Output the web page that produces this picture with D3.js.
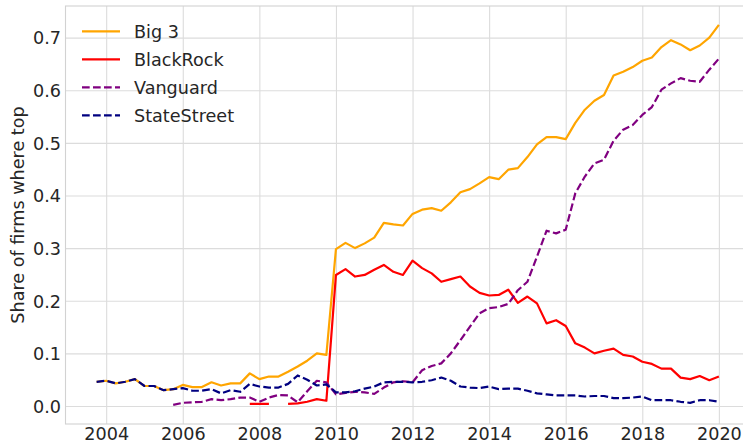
<!DOCTYPE html>
<html>
<head>
<meta charset="utf-8">
<script src="https://cdn.jsdelivr.net/npm/d3@7"></script>
<style>
  body { margin: 0; background: #fff; }
  svg { display: block; font-family: "DejaVu Sans", sans-serif; }
</style>
</head>
<body>
<svg width="743" height="447"></svg>
<script>
// quarterly observations, 2003 Q4 .. 2020 Q1 (decimal years)
var quarters = [
  2003.75,
  2004.00, 2004.25, 2004.50, 2004.75, 2005.00, 2005.25, 2005.50, 2005.75,
  2006.00, 2006.25, 2006.50, 2006.75, 2007.00, 2007.25, 2007.50, 2007.75,
  2008.00, 2008.25, 2008.50, 2008.75, 2009.00, 2009.25, 2009.50, 2009.75,
  2010.00, 2010.25, 2010.50, 2010.75, 2011.00, 2011.25, 2011.50, 2011.75,
  2012.00, 2012.25, 2012.50, 2012.75, 2013.00, 2013.25, 2013.50, 2013.75,
  2014.00, 2014.25, 2014.50, 2014.75, 2015.00, 2015.25, 2015.50, 2015.75,
  2016.00, 2016.25, 2016.50, 2016.75, 2017.00, 2017.25, 2017.50, 2017.75,
  2018.00, 2018.25, 2018.50, 2018.75, 2019.00, 2019.25, 2019.50, 2019.75,
  2020.00
];

var big3 = [
  0.046,
  0.048, 0.043, 0.046, 0.051, 0.038, 0.038, 0.030, 0.032,
  0.040, 0.036, 0.036, 0.045, 0.039, 0.043, 0.043, 0.062,
  0.051, 0.056, 0.056, 0.065, 0.075, 0.086, 0.100, 0.097,
  0.298, 0.310, 0.300, 0.309, 0.320, 0.348, 0.345, 0.343,
  0.365, 0.373, 0.376, 0.371, 0.387, 0.406, 0.412, 0.423,
  0.435, 0.431, 0.449, 0.452, 0.473, 0.497, 0.511, 0.511,
  0.507, 0.538, 0.563, 0.580, 0.591, 0.628, 0.635, 0.644,
  0.656, 0.662, 0.682, 0.695, 0.687, 0.676, 0.685, 0.700,
  0.724
];

var blackrock = [
  null,
  null, null, null, null, null, null, null, null,
  null, null, null, null, null, null, null, 0.004,
  0.004, 0.004, null, 0.004, 0.005, 0.008, 0.013, 0.010,
  0.249, 0.260, 0.246, 0.249, 0.259, 0.268, 0.255, 0.249,
  0.276, 0.262, 0.252, 0.236, 0.241, 0.246, 0.227, 0.215,
  0.210, 0.211, 0.221, 0.196, 0.208, 0.195, 0.157, 0.163,
  0.152, 0.119, 0.111, 0.100, 0.105, 0.109, 0.097, 0.094,
  0.084, 0.080, 0.071, 0.071, 0.054, 0.051, 0.057, 0.049,
  0.056
];

var vanguard = [
  null,
  null, null, null, null, null, null, null, 0.002,
  0.006, 0.007, 0.008, 0.013, 0.011, 0.013, 0.016, 0.016,
  0.008, 0.016, 0.021, 0.020, 0.007, 0.028, 0.048, 0.045,
  0.022, 0.025, 0.027, 0.026, 0.023, 0.035, 0.045, 0.047,
  0.045, 0.068, 0.076, 0.081, 0.100, 0.125, 0.151, 0.176,
  0.186, 0.188, 0.194, 0.220, 0.236, 0.284, 0.333, 0.328,
  0.335, 0.404, 0.436, 0.461, 0.468, 0.504, 0.525, 0.534,
  0.553, 0.568, 0.601, 0.613, 0.623, 0.618, 0.616, 0.639,
  0.660
];

var statestreet = [
  0.046,
  0.048, 0.043, 0.046, 0.051, 0.038, 0.038, 0.030, 0.032,
  0.034, 0.029, 0.029, 0.032, 0.024, 0.030, 0.027, 0.042,
  0.037, 0.035, 0.035, 0.042, 0.058, 0.050, 0.039, 0.041,
  0.026, 0.026, 0.028, 0.033, 0.037, 0.045, 0.046, 0.046,
  0.045, 0.046, 0.049, 0.054, 0.048, 0.037, 0.035, 0.034,
  0.037, 0.032, 0.033, 0.033, 0.029, 0.024, 0.022, 0.020,
  0.020, 0.020, 0.018, 0.019, 0.019, 0.015, 0.015, 0.016,
  0.018, 0.011, 0.011, 0.011, 0.008, 0.006, 0.011, 0.011,
  0.008
];

var seriesNames = ["Big 3", "BlackRock", "Vanguard", "StateStreet"];
var xTicks = [2004, 2006, 2008, 2010, 2012, 2014, 2016, 2018, 2020];
var yTicks = [0.0, 0.1, 0.2, 0.3, 0.4, 0.5, 0.6, 0.7];
var yLabel = "Share of firms where top";

var series = [
  { name: seriesNames[0], values: big3,        color: "#ffa500", dash: null },
  { name: seriesNames[1], values: blackrock,   color: "#ff0000", dash: null },
  { name: seriesNames[2], values: vanguard,    color: "#800080", dash: "7.7,3.3" },
  { name: seriesNames[3], values: statestreet, color: "#000080", dash: "7.7,3.3" }
];

var svg = d3.select("svg");
// plot box (right edge falls just outside the 743px window, as in the original)
var plotL = 65.5, plotT = 6, plotR = 750, plotB = 424;
var textColor = "#262626";

var x = d3.scaleLinear().domain([2002.9375, 2020.8125]).range([plotL, plotR]);
var y = d3.scaleLinear().domain([-0.0342, 0.760]).range([plotB, plotT]);

// grid
svg.append("g")
  .attr("transform", "translate(0," + plotB + ")")
  .call(d3.axisBottom(x).tickValues(xTicks).tickSize(-(plotB - plotT)).tickFormat(""))
  .call(function(g) {
    g.select(".domain").remove();
    g.selectAll(".tick line").attr("stroke", "#dcdcdc").attr("stroke-width", 1.1);
  });
svg.append("g")
  .attr("transform", "translate(" + plotL + ",0)")
  .call(d3.axisLeft(y).tickValues(yTicks).tickSize(-(plotR - plotL)).tickFormat(""))
  .call(function(g) {
    g.select(".domain").remove();
    g.selectAll(".tick line").attr("stroke", "#dcdcdc").attr("stroke-width", 1.1);
  });

// frame
svg.append("rect")
  .attr("x", plotL).attr("y", plotT)
  .attr("width", plotR - plotL).attr("height", plotB - plotT)
  .attr("fill", "none").attr("stroke", "#d2d2d2").attr("stroke-width", 1.1);

// tick labels
svg.append("g")
  .attr("transform", "translate(0," + plotB + ")")
  .call(d3.axisBottom(x).tickValues(xTicks).tickSize(0).tickPadding(0).tickFormat(d3.format("d")))
  .call(function(g) {
    g.select(".domain").remove();
    g.selectAll("text").attr("dy", null).attr("y", 16)
      .attr("fill", textColor).style("font-size", "17.6px")
      .style("font-family", "'DejaVu Sans', sans-serif");
  });
svg.append("g")
  .attr("transform", "translate(" + plotL + ",0)")
  .call(d3.axisLeft(y).tickValues(yTicks).tickSize(0).tickPadding(4.5).tickFormat(d3.format(".1f")))
  .call(function(g) {
    g.select(".domain").remove();
    g.selectAll("text").attr("dy", "0.36em")
      .attr("fill", textColor).style("font-size", "17.6px")
      .style("font-family", "'DejaVu Sans', sans-serif");
  });

svg.append("text")
  .attr("transform", "translate(24," + ((plotT + plotB) / 2) + ") rotate(-90)")
  .attr("text-anchor", "middle")
  .attr("fill", textColor)
  .style("font-size", "17.6px")
  .text(yLabel);

// lines
svg.append("clipPath").attr("id", "plot-clip")
  .append("rect").attr("x", plotL).attr("y", plotT)
  .attr("width", plotR - plotL).attr("height", plotB - plotT);

var line = d3.line()
  .defined(function(d) { return d[1] != null; })
  .x(function(d) { return x(d[0]); })
  .y(function(d) { return y(d[1]); });

svg.append("g").attr("clip-path", "url(#plot-clip)")
  .selectAll("path")
  .data(series)
  .enter().append("path")
    .attr("d", function(s) { return line(quarters.map(function(q, i) { return [q, s.values[i]]; })); })
    .attr("fill", "none")
    .attr("stroke", function(s) { return s.color; })
    .attr("stroke-width", 2.2)
    .attr("stroke-dasharray", function(s) { return s.dash; })
    .attr("stroke-linejoin", "round");

// legend
var legend = svg.append("g").selectAll("g")
  .data(series)
  .enter().append("g")
    .attr("transform", function(d, i) { return "translate(0," + (31.3 + i * 28) + ")"; });
legend.append("line")
  .attr("x1", 82).attr("x2", 120)
  .attr("stroke", function(d) { return d.color; })
  .attr("stroke-width", 2.2)
  .attr("stroke-dasharray", function(d) { return d.dash; });
legend.append("text")
  .attr("x", 134).attr("dy", "0.36em")
  .attr("fill", textColor)
  .style("font-size", "17.6px")
  .text(function(d) { return d.name; });
</script>
</body>
</html>
